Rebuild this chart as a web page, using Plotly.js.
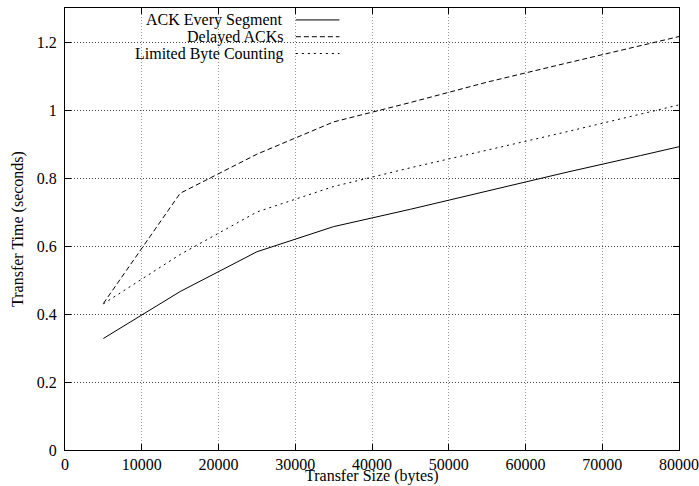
<!DOCTYPE html>
<html>
<head>
<meta charset="utf-8">
<script src="https://cdn.plot.ly/plotly-3.0.1.min.js"></script>
<style>html,body{margin:0;padding:0;background:#fff}#chart{width:699px;height:486px}</style>
</head>
<body>
<div id="chart"></div>
<script>
const transferSize = [5000, 15000, 25000, 35000, 45000, 55000, 65000, 75000, 80000];
const ackEverySegment = [0.328, 0.466, 0.583, 0.657, 0.708, 0.762, 0.815, 0.866, 0.892];
const delayedAcks = [0.431, 0.755, 0.870, 0.965, 1.022, 1.082, 1.136, 1.189, 1.216];
const limitedByteCounting = [0.430, 0.575, 0.700, 0.775, 0.830, 0.881, 0.934, 0.988, 1.015];
const seriesNames = ['ACK Every Segment', 'Delayed ACKs', 'Limited Byte Counting'];
const xTicks = [0, 10000, 20000, 30000, 40000, 50000, 60000, 70000, 80000];
const yTicks = [0, 0.2, 0.4, 0.6, 0.8, 1, 1.2];
const xTitle = 'Transfer Size (bytes)';
const yTitle = 'Transfer Time (seconds)';

const font = {family: 'Times New Roman', size: 16, color: '#000'};
const dashes = ['solid', '5px,3px', '2px,4px'];
const seriesData = [ackEverySegment, delayedAcks, limitedByteCounting];

const traces = seriesData.map((ys, i) => ({
  x: transferSize, y: ys, type: 'scatter', mode: 'lines', name: seriesNames[i],
  line: {color: '#000', width: 1, dash: dashes[i]}, showlegend: false
}));

// legend drawn gnuplot style: text right-aligned, sample to the right
const legendY = [0.973, 0.935, 0.897];
const annotations = seriesNames.map((n, i) => ({
  xref: 'paper', yref: 'paper', x: 0.358, y: legendY[i], xanchor: 'right', yanchor: 'middle',
  text: n, showarrow: false, font: font
}));
annotations.push({
  xref: 'paper', yref: 'paper', x: 0.5, y: -0.082, xanchor: 'center', yanchor: 'bottom',
  text: xTitle, showarrow: false, font: font, borderpad: 0
});
const shapes = [{
  type: 'rect', xref: 'paper', yref: 'paper', x0: 0.003, x1: 0.455, y0: 0.878, y1: 0.992,
  fillcolor: '#fff', line: {width: 0}, layer: 'between'
}];
seriesNames.forEach((n, i) => {
  shapes.push({type: 'line', xref: 'paper', yref: 'paper', x0: 0.376, x1: 0.447,
    y0: legendY[i], y1: legendY[i], line: {color: '#000', width: 1, dash: dashes[i]}, layer: 'above'});
});

const layout = {
  width: 699, height: 486,
  margin: {l: 65, r: 20, t: 8, b: 36},
  paper_bgcolor: '#fff', plot_bgcolor: '#fff',
  font: font,
  xaxis: {
    range: [0, 80000], tickvals: xTicks, ticktext: xTicks.map(String),
    ticks: 'inside', ticklen: 6, tickcolor: '#000', mirror: 'ticks',
    showline: true, linecolor: '#000', linewidth: 1,
    showgrid: true, gridcolor: '#999', griddash: '1px,2px', gridwidth: 1,
    zeroline: false, tickfont: font
  },
  yaxis: {
    range: [0, 1.3], tickvals: yTicks, ticktext: yTicks.map(v => String(v) + '\u00a0'),
    ticks: 'inside', ticklen: 6, tickcolor: '#000', mirror: 'ticks',
    showline: true, linecolor: '#000', linewidth: 1,
    showgrid: true, gridcolor: '#444', griddash: '1px,2px', gridwidth: 1,
    zeroline: false, tickfont: font,
    title: {text: yTitle, font: font}
  },
  annotations: annotations,
  shapes: shapes
};
Plotly.newPlot('chart', traces, layout, {staticPlot: true, displayModeBar: false});
</script>
</body>
</html>
